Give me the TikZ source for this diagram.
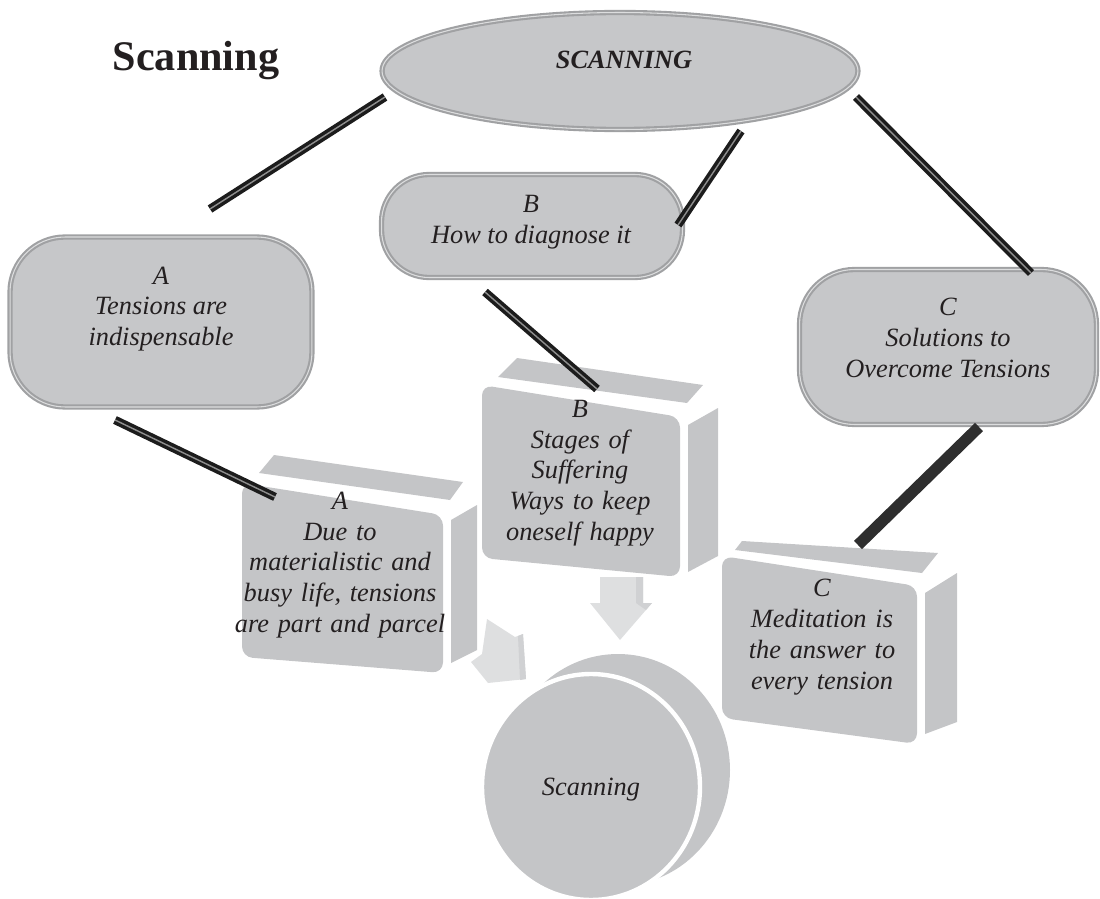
\documentclass[tikz,border=0pt]{standalone}
\usepackage{fontspec}
\setmainfont{Liberation Serif}
\usetikzlibrary{shapes.geometric}
\definecolor{boxfill}{HTML}{C6C7C9}
\definecolor{boxedge}{HTML}{A0A1A3}
\definecolor{boxline}{HTML}{DCDDDE}
\definecolor{cubefill}{HTML}{C4C5C7}
\definecolor{arrowfill}{HTML}{DEDFE0}
\definecolor{arrowside}{HTML}{D0D1D3}
\definecolor{ink}{HTML}{231F20}
\definecolor{pipe}{HTML}{1C1C1C}
\definecolor{pipecore}{HTML}{8E8E8E}
\begin{document}
\begin{tikzpicture}[x=0.02cm,y=-0.02cm,
  boxstyle/.style={draw=boxedge, line width=1.2pt, double=boxline, double distance=0.6pt, fill=boxfill, inner sep=0pt},
  oval/.style={boxstyle, ellipse},
  rbox/.style={boxstyle, rectangle},
  txt/.style={text=ink, font=\fontsize{15}{17.5}\selectfont\itshape, align=center, inner sep=0pt},
  pipeline/.style={draw=pipe, line width=2pt, double=pipecore, double distance=0.8pt},
  solidline/.style={draw=pipe!92, line width=6.5pt},
  face/.style={fill=cubefill, draw=none},
  arrowshape/.style={fill=arrowfill, draw=none}
]
\useasboundingbox (0,0) rectangle (1100,899);

% title
\node[text=ink, font=\fontsize{24}{28}\selectfont\bfseries, inner sep=0pt] (title) at (196,61) {Scanning};

% block arrows towards the disc
\fill[arrowshape] (600,577) -- (643,577) -- (643,603) -- (652,603) -- (620,640) -- (590,603) -- (600,603) -- cycle;
\fill[arrowside] (636,577) -- (643,577) -- (643,603) -- (652,603) -- (646,610) -- (636,603) -- cycle;
\fill[arrowshape] (487,619) -- (515,637) -- (523,634) -- (526,679) -- (488,683) -- (471,662) -- (482,654) -- cycle;
\fill[arrowside] (518,636) -- (523,634) -- (526,679) -- (520,680) -- cycle;

% disc
\fill[cubefill] (618,770) ellipse [x radius=112, y radius=116];
\filldraw[fill=cubefill, draw=white, line width=2.5pt] (591,787) ellipse [x radius=109, y radius=113];
\node[txt] (disc) at (591,790) {Scanning};

% cube A
\fill[face] (274,455) -- (463,482) -- (450,500) -- (259,473) -- cycle;
\fill[face, rounded corners=6pt] (242,483) -- (443,515) -- (443,673) -- (242,657) -- cycle;
\fill[face] (451,520) -- (477,505) -- (477,650) -- (451,663) -- cycle;
\node[txt, text width=205] (cubeA) at (340,565) {A\\Due to\\materialistic and\\busy life, tensions\\are part and parcel};

% cube B
\fill[face] (517,358) -- (703,385) -- (687,403) -- (498,377) -- cycle;
\fill[face, rounded corners=6pt] (482,385) -- (680,417) -- (680,577) -- (482,558) -- cycle;
\fill[face] (688,425) -- (718,408) -- (718,556) -- (688,572) -- cycle;
\node[txt, text width=200] (cubeB) at (580,473) {B\\Stages of\\Suffering\\Ways to keep\\oneself happy};

% cube C
\fill[face] (742,541) -- (938,553) -- (922,573) -- (735,550) -- cycle;
\fill[face, rounded corners=6pt] (722,556) -- (917,586) -- (917,744) -- (722,718) -- cycle;
\fill[face] (925,593) -- (957,573) -- (957,722) -- (925,734) -- cycle;
\node[txt, text width=200] (cubeC) at (822,637) {C\\Meditation is\\the answer to\\every tension};

% top oval and rounded boxes
\node[oval, minimum width=9.52cm, minimum height=2.34cm] (top) at (620,71) {};
\node[text=ink, font=\fontsize{15}{18}\selectfont\bfseries\itshape, inner sep=0pt] (toptext) at (624,60) {SCANNING};

\node[rbox, minimum width=6.04cm, minimum height=3.4cm, rounded corners=1.1cm] (boxA) at (161,322) {};
\node[txt] (boxAtext) at (161,309) {A\\Tensions are\\indispensable};

\node[rbox, minimum width=6.02cm, minimum height=2.06cm, rounded corners=0.95cm] (boxB) at (532,226) {};
\node[txt] (boxBtext) at (531,222) {B\\How to diagnose it};

\node[rbox, minimum width=5.94cm, minimum height=3.1cm, rounded corners=1.1cm] (boxC) at (948,347) {};
\node[txt] (boxCtext) at (948,338) {C\\Solutions to\\Overcome Tensions};

% connector end points
\coordinate (t1) at (385,97);   \coordinate (a1) at (210,209);
\coordinate (t2) at (741,131);  \coordinate (b1) at (678,225);
\coordinate (t3) at (856,97);   \coordinate (c1) at (1031,273);
\coordinate (b2) at (485,292);  \coordinate (b3) at (597,389);
\coordinate (a2) at (115,420);  \coordinate (a3) at (275,497);
\coordinate (c2) at (979,427);  \coordinate (c3) at (858,545);

\draw[pipeline] (t1) -- (a1);
\draw[pipeline] (t2) -- (b1);
\draw[pipeline] (t3) -- (c1);
\draw[pipeline] (b2) -- (b3);
\draw[pipeline] (a2) -- (a3);
\draw[solidline] (c2) -- (c3);
\end{tikzpicture}
\end{document}
